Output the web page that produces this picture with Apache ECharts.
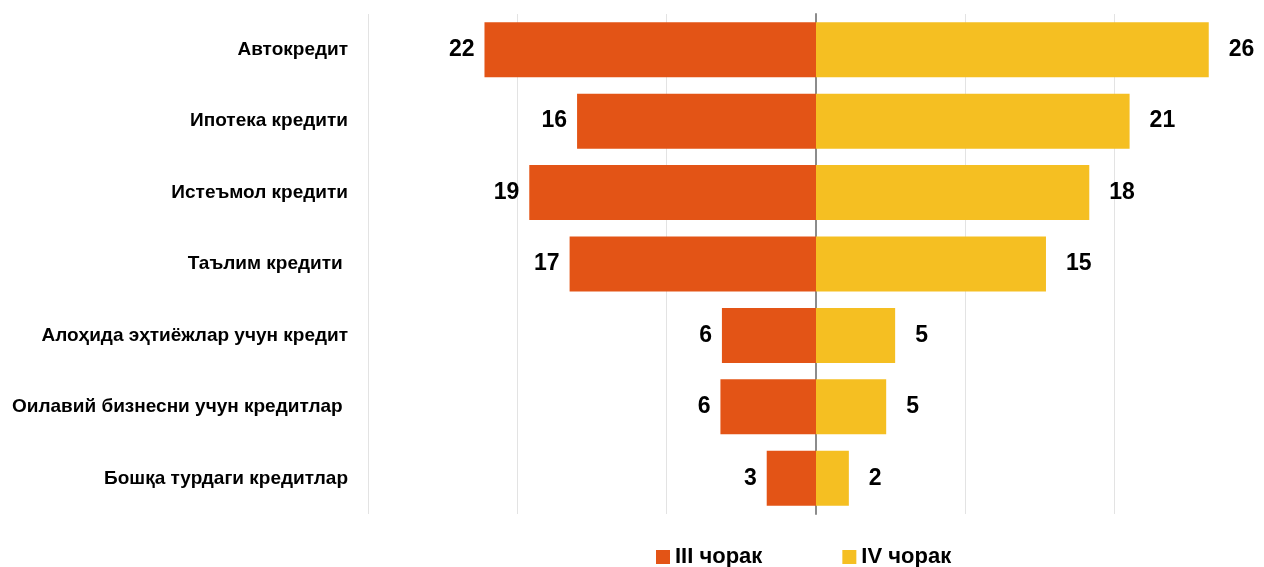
<!DOCTYPE html>
<html><head><meta charset="utf-8">
<script src="https://cdn.jsdelivr.net/npm/echarts@6/dist/echarts.min.js"></script>
<style>html,body{margin:0;padding:0;background:#fff}#c{width:1264px;height:567px}</style>
</head><body><div id="c"></div>
<script>
const categories = ['Автокредит','Ипотека кредити','Истеъмол кредити','Таълим кредити ','Алоҳида эҳтиёжлар учун кредит','Оилавий бизнесни учун кредитлар ','Бошқа турдаги кредитлар'];
const seriesNames = ['III чорак','IV чорак'];
const q3Values = [22.2, 16.0, 19.2, 16.5, 6.3, 6.4, 3.3];
const q4Values = [26.3, 21.0, 18.3, 15.4, 5.3, 4.7, 2.2];
const axisMin = -30, axisMax = 30, axisStep = 10;

const chart = echarts.init(document.getElementById('c'));
const font = '"Liberation Sans", Arial, sans-serif';
chart.setOption({
  animation:false,
  textStyle:{fontFamily:font},
  grid:{left:368, right:-2, top:14, bottom:53, containLabel:false},
  legend:{top:541, left:651, itemWidth:14, itemHeight:14, itemGap:80, icon:'rect',
    textStyle:{fontSize:22, fontWeight:'bold', color:'#000', fontFamily:font},
    data:seriesNames},
  xAxis:{type:'value', min:axisMin, max:axisMax, interval:axisStep,
    axisLabel:{show:false}, axisLine:{show:false}, axisTick:{show:false},
    splitLine:{lineStyle:{color:'#e3e3e3', width:1}}},
  yAxis:{type:'category', inverse:true, data:categories,
    axisTick:{show:false},
    axisLine:{show:true, onZeroAxisIndex:0, lineStyle:{color:'#8c8c8c', width:2}},
    axisLabel:{margin:20, fontSize:19, fontWeight:'bold', color:'#000', fontFamily:font}},
  series:[
    {name:seriesNames[0], type:'bar', stack:'s', barWidth:55,
     itemStyle:{color:'#E35416'},
     data:q3Values.map(v=>-v),
     label:{show:true, position:'left', distance:10, fontSize:23, fontWeight:'bold', color:'#000', fontFamily:font,
       formatter:p=>Math.round(Math.abs(p.value))}},
    {name:seriesNames[1], type:'bar', stack:'s', barWidth:55,
     itemStyle:{color:'#F5BF22'},
     data:q4Values,
     label:{show:true, position:'right', distance:20, fontSize:23, fontWeight:'bold', color:'#000', fontFamily:font,
       formatter:p=>Math.round(p.value)}}
  ]
});
</script></body></html>
